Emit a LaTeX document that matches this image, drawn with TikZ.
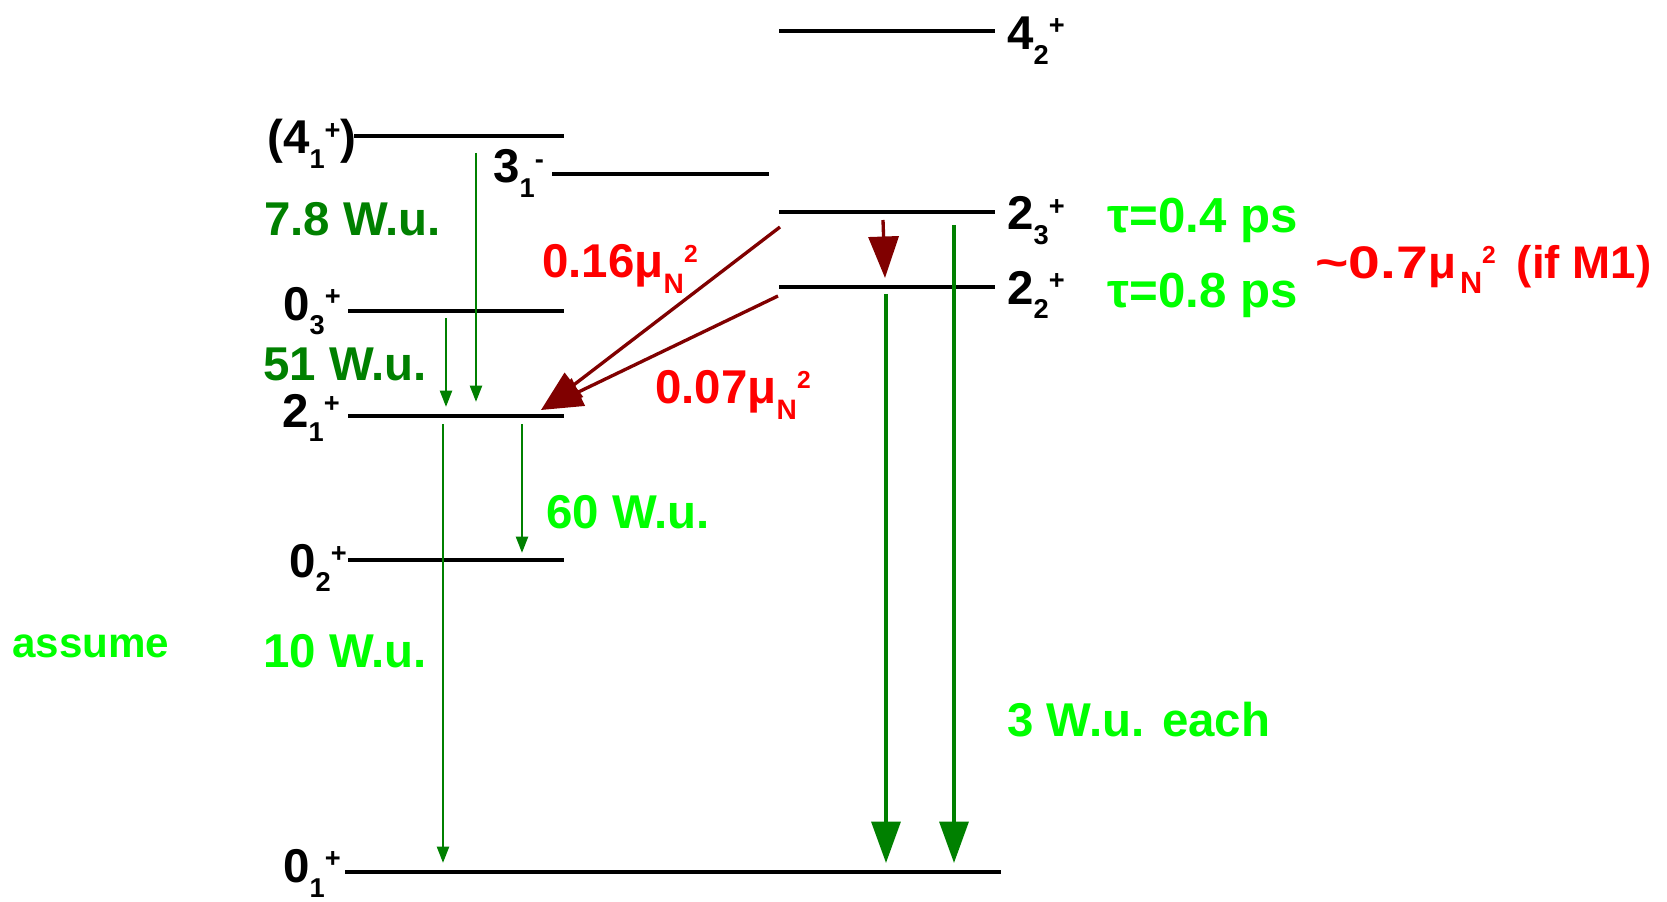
\documentclass[tikz,border=0pt]{standalone}
\usepackage{fontspec}
\setmainfont{Liberation Sans}
\usetikzlibrary{arrows.meta}

\definecolor{dkgreen}{HTML}{008000}
\definecolor{ltgreen}{HTML}{00FF00}
\definecolor{dkred}{HTML}{800000}
\definecolor{brred}{HTML}{FF0000}

% level label indices
\newcommand{\lsub}[1]{\raisebox{-0.3cm}{\fontsize{15.5}{16}\selectfont #1}}
\newcommand{\lsup}[1]{\raisebox{0.3cm}{\fontsize{15.5}{16}\selectfont #1}}
\newcommand{\musq}{μ\raisebox{-0.34cm}{\fontsize{16}{17}\selectfont N}\raisebox{0.3cm}{\fontsize{14}{15}\selectfont 2}}

\begin{document}
\begin{tikzpicture}[x=0.02cm, y=-0.02cm,
    lvl/.style={line width=1.9pt, black},
    lab/.style={font=\fontsize{27}{32}\selectfont\bfseries, inner sep=0pt, anchor=base west},
    gsmall/.style={dkgreen, line width=1.5pt, -{Triangle[length=0.33cm,width=0.24cm]}},
    gbig/.style={dkgreen, line width=2pt, -{Triangle[length=0.83cm,width=0.58cm]}},
    mred/.style={dkred, line width=1.9pt, -{Triangle[length=0.83cm,width=0.6cm]}}]
    \useasboundingbox (0,0) rectangle (1667,902);

    % levels
    \draw[lvl] (779,31) coordinate (l42w) -- (995,31) coordinate (l42e);
    \draw[lvl] (354,136) coordinate (l41w) -- (564,136) coordinate (l41e);
    \draw[lvl] (552,174) coordinate (l31w) -- (769,174) coordinate (l31e);
    \draw[lvl] (779,212) coordinate (l23w) -- (995,212) coordinate (l23e);
    \draw[lvl] (779,287) coordinate (l22w) -- (995,287) coordinate (l22e);
    \draw[lvl] (348,311) coordinate (l03w) -- (564,311) coordinate (l03e);
    \draw[lvl] (348,416) coordinate (l21w) -- (564,416) coordinate (l21e);
    \draw[lvl] (348,560) coordinate (l02w) -- (564,560) coordinate (l02e);
    \draw[lvl] (345,872) coordinate (l01w) -- (1001,872) coordinate (l01e);

    \node[lab] (t42) at (1007,50) {4\lsub{2}\lsup{+}};
    \node[lab] (t41) at (267,154) {(4\lsub{1}\lsup{+})};
    \node[lab] (t31) at (493,183) {3\lsub{1}\lsup{-}};
    \node[lab] (t23) at (1007,230) {2\lsub{3}\lsup{+}};
    \node[lab] (t22) at (1007,304) {2\lsub{2}\lsup{+}};
    \node[lab] (t03) at (283,320) {0\lsub{3}\lsup{+}};
    \node[lab] (t21) at (282,427) {2\lsub{1}\lsup{+}};
    \node[lab] (t02) at (289,577) {0\lsub{2}\lsup{+}};
    \node[lab] (t01) at (283,882) {0\lsub{1}\lsup{+}};

    % transitions
    \coordinate (a41) at (476,153);  \coordinate (b41) at (476,402);
    \coordinate (a03) at (446,318);  \coordinate (b03) at (446,407);
    \coordinate (a21) at (443,424);  \coordinate (b21) at (443,863);
    \coordinate (c21) at (522,424);  \coordinate (d21) at (522,553);
    \coordinate (a22) at (886,294);  \coordinate (b22) at (886,863);
    \coordinate (a23) at (954,225);  \coordinate (b23) at (954,863);
    \coordinate (c23) at (883,220);  \coordinate (d23) at (885,278);
    \coordinate (e23) at (780,227);  \coordinate (tip) at (541,410);
    \coordinate (c22) at (778,296);

    \draw[gsmall] (a41) -- (b41);
    \draw[gsmall] (a03) -- (b03);
    \draw[gsmall] (a21) -- (b21);
    \draw[gsmall] (c21) -- (d21);
    \draw[gbig] (a22) -- (b22);
    \draw[gbig] (a23) -- (b23);
    \draw[mred] (c23) -- (d23);
    \draw[mred] (e23) -- (tip);
    \draw[mred] (c22) -- (tip);

    \node[lab, dkgreen] (w78) at (264,236) {7.8 W.u.};
    \node[lab, dkgreen] (w51) at (263,380) {51 W.u.};
    \node[lab, ltgreen] (w60) at (546,528) {60 W.u.};
    \node[lab, ltgreen] (w10) at (263,667) {10 W.u.};
    \node[lab, ltgreen, font=\fontsize{24}{28}\selectfont\bfseries] (asm) at (12,657) {assume};
    \node[lab, ltgreen] (w3) at (1007,736) {3 W.u. each};
    \node[lab, ltgreen, font=\fontsize{28}{32}\selectfont\bfseries] (tau4) at (1107,233) {τ=0.4 ps};
    \node[lab, ltgreen, font=\fontsize{28}{32}\selectfont\bfseries] (tau8) at (1107,308) {τ=0.8 ps};
    \node[lab, brred] (m16) at (542,277) {0.16\musq};
    \node[lab, brred] (m07) at (655,403) {0.07\musq};
    \node[lab, brred, font=\fontsize{26}{30}\selectfont\bfseries] (m1) at (1315,278)
        {\scalebox{1.25}[1]{\textasciitilde 0.7}μ\hspace{0.08cm}\raisebox{-0.32cm}{\fontsize{17.5}{18}\selectfont N}\raisebox{0.3cm}{\fontsize{14}{15}\selectfont 2}\hspace{0.42cm}(if M1)};
\end{tikzpicture}
\end{document}
